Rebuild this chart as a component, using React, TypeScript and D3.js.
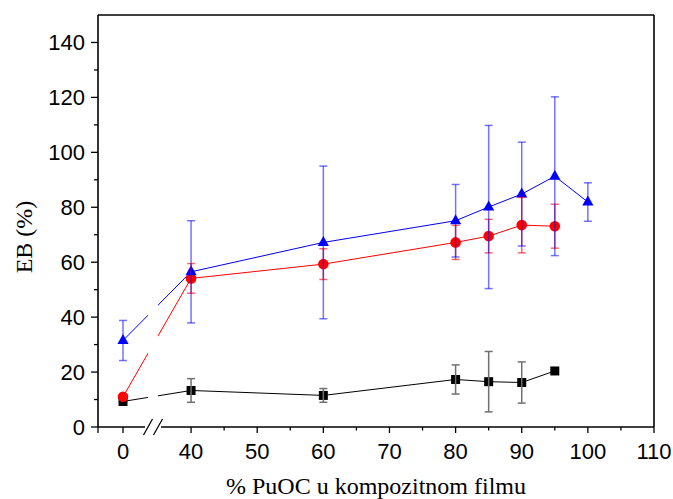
import React from "react";
import * as d3 from "d3";

const xBase = [0, 40, 60, 80, 85, 90, 95];
const xBlue = [0, 40, 60, 80, 85, 90, 95, 100];

const blackVals = [9.3, 13.3, 11.5, 17.3, 16.5, 16.2, 20.4];
const blackErr = [0, 4.3, 2.5, 5.3, 11, 7.5, 0];

const redVals = [11.0, 54.1, 59.3, 67.2, 69.5, 73.5, 73.1];
const redErr = [0, 5.4, 5.6, 6.2, 6.1, 10.1, 8.0];

const blueVals = [31.5, 56.5, 67.2, 75.1, 80.1, 84.8, 91.3, 81.9];
const blueErr = [7.3, 18.6, 27.8, 13.2, 29.7, 18.9, 28.9, 7.0];

const xMajor = [0, 40, 50, 60, 70, 80, 90, 100, 110];
const xMinor = [45, 55, 65, 75, 85, 95, 105];
const yMajor = [0, 20, 40, 60, 80, 100, 120, 140];
const yMinor = [10, 30, 50, 70, 90, 110, 130];

const W = 673;
const H = 499;
const L = 98, R = 654, T = 15, B = 427;
const breakL = 148, breakR = 158;

export default function App() {
  const x = d3.scaleLinear().domain([-5, 5, 35, 110]).range([L, breakL, breakR, R]);
  const y = d3.scaleLinear().domain([0, 150]).range([B, T]);

  const series = [
    { xs: xBase, vals: blackVals, err: blackErr, color: "#000000", errColor: "#707070", shape: "square" },
    { xs: xBase, vals: redVals, err: redErr, color: "#ff0000", errColor: "rgba(255,0,0,0.6)", shape: "circle" },
    { xs: xBlue, vals: blueVals, err: blueErr, color: "#0000ff", errColor: "rgba(0,0,255,0.55)", shape: "triangle" },
  ];

  const line = d3.line<[number, number]>().x((d) => x(d[0])).y((d) => y(d[1]));

  const marker = (shape: string, cx: number, cy: number, color: string, key: string) => {
    if (shape === "square") return <rect key={key} x={cx - 4.5} y={cy - 4.5} width={9} height={9} fill={color} />;
    if (shape === "circle") return <circle key={key} cx={cx} cy={cy} r={5.3} fill={color} />;
    return <path key={key} d={`M${cx},${cy - 6.5}L${cx + 5.6},${cy + 3.5}L${cx - 5.6},${cy + 3.5}Z`} fill={color} />;
  };

  return (
    <svg width={W} height={H} style={{ position: "absolute", left: 0, top: 0, background: "#fff" }}>
      <defs>
        <clipPath id="gapClip">
          <rect x={0} y={0} width={breakL} height={H} />
          <rect x={breakR} y={0} width={W - breakR} height={H} />
        </clipPath>
      </defs>
      {series.map((s, i) => (
        <path
          key={"l" + i}
          d={line(s.xs.map((xv, j) => [xv, s.vals[j]] as [number, number])) || ""}
          fill="none"
          stroke={s.color}
          strokeWidth={1}
          clipPath="url(#gapClip)"
        />
      ))}
      {series.map((s, i) => (
        <g key={"m" + i}>{s.xs.map((xv, j) => marker(s.shape, x(xv), y(s.vals[j]), s.color, `m${i}-${j}`))}</g>
      ))}
      {series.map((s, i) => (
        <g key={"e" + i} stroke={s.errColor} strokeWidth={1.5} fill="none">
          {s.xs.map((xv, j) =>
            s.err[j] > 0 ? (
              <g key={j}>
                <line x1={x(xv)} x2={x(xv)} y1={y(s.vals[j] + s.err[j])} y2={y(s.vals[j] - s.err[j])} />
                <line x1={x(xv) - 4} x2={x(xv) + 4} y1={y(s.vals[j] + s.err[j])} y2={y(s.vals[j] + s.err[j])} />
                <line x1={x(xv) - 4} x2={x(xv) + 4} y1={y(s.vals[j] - s.err[j])} y2={y(s.vals[j] - s.err[j])} />
              </g>
            ) : null
          )}
        </g>
      ))}
      <g stroke="#000" strokeWidth={1.6} fill="none">
        <line x1={L} x2={L} y1={T} y2={B} />
        <line x1={L} x2={R} y1={T} y2={T} />
        <line x1={R} x2={R} y1={T} y2={B} />
        <line x1={L} x2={breakL - 3} y1={B} y2={B} />
        <line x1={breakR + 3} x2={R} y1={B} y2={B} />
        <line x1={breakL - 4.5} y1={B + 8} x2={breakL + 4.5} y2={B - 8} strokeWidth={1.3} />
        <line x1={breakR - 4.5} y1={B + 8} x2={breakR + 4.5} y2={B - 8} strokeWidth={1.3} />
      </g>
      <g stroke="#000" strokeWidth={1.3}>
        {yMajor.map((v) => (
          <line key={"ym" + v} x1={L - 7} x2={L} y1={y(v)} y2={y(v)} />
        ))}
        {yMinor.map((v) => (
          <line key={"yn" + v} x1={L - 4} x2={L} y1={y(v)} y2={y(v)} />
        ))}
        {xMajor.concat([-5]).map((v) => (
          <line key={"xm" + v} x1={x(v)} x2={x(v)} y1={B} y2={B + 6} />
        ))}
        {xMinor.map((v) => (
          <line key={"xn" + v} x1={x(v)} x2={x(v)} y1={B} y2={B + 3.5} />
        ))}
      </g>
      <g fontFamily="'Liberation Sans', Arial, sans-serif" fontSize={22} fill="#000">
        {yMajor.map((v) => (
          <text key={"yl" + v} x={L - 13} y={y(v)} dy="0.35em" textAnchor="end">
            {v}
          </text>
        ))}
        {xMajor.map((v) => (
          <text key={"xl" + v} x={x(v)} y={B + 32} textAnchor="middle">
            {v}
          </text>
        ))}
      </g>
      <text
        transform={`translate(32, 237) rotate(-90)`}
        textAnchor="middle"
        fontFamily="'Liberation Serif', 'Times New Roman', serif"
        fontSize={24}
      >
        EB (%)
      </text>
      <text
        x={(L + R) / 2}
        y={494}
        textAnchor="middle"
        fontFamily="'Liberation Serif', 'Times New Roman', serif"
        fontSize={24}
      >
        % PuOC u kompozitnom filmu
      </text>
    </svg>
  );
}
